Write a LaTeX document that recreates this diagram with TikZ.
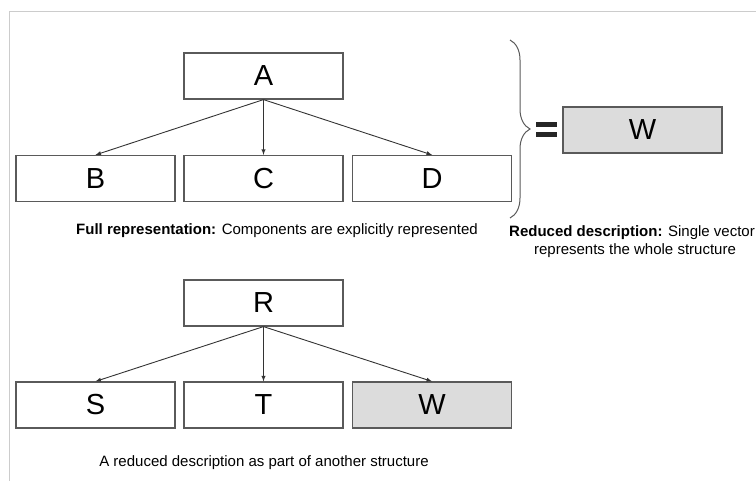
\documentclass[tikz,border=0pt]{standalone}
\usepackage{fontspec}
\setmainfont{Liberation Sans}
\usepackage{xcolor}
\usetikzlibrary{decorations.pathreplacing}
\definecolor{boxfill}{HTML}{DCDCDC}
\definecolor{boxline}{HTML}{5A5A5A}
\definecolor{framegray}{HTML}{CCCCCC}
\tikzset{
  box/.style={draw=boxline, line width=1.2pt, minimum width=159pt, minimum height=46pt,
    inner sep=0pt, font=\fontsize{29}{31}\selectfont},
  redbox/.style={box, fill=boxfill},
  caption/.style={inner sep=0pt, font=\fontsize{15}{18}\selectfont},
  link/.style={->, >=latex, draw=black!80, line width=0.9pt}
}
\begin{document}
\begin{tikzpicture}[x=1pt,y=-1pt]
\useasboundingbox (0,0) rectangle (756,481);
% frame
\draw[framegray, line width=0.8pt] (9,481) -- (9,11) -- (756,11);
% full representation
\node[box] (a) at (263.5,76) {A};
\node[box] (b) at (95.5,178.5) {B};
\node[box] (c) at (263.5,178.5) {C};
\node[box] (d) at (432,178.5) {D};
\draw[link] (a.south)--(b.north);
\draw[link] (a.south)--(c.north);
\draw[link] (a.south)--(d.north);
\node[caption, anchor=base] (fullcap) at (277,235) {\textbf{Full representation:} Components are explicitly represented};
% reduced description
\draw[boxline, line width=1pt, decorate, decoration={brace, amplitude=20pt}] (510,40) -- (510,218);
\draw[black!85, line width=4.5pt] (536,124.5) -- (557,124.5);
\draw[black!85, line width=4.5pt] (536,134.5) -- (557,134.5);
\node[redbox] (w) at (642.5,130) {W};
\node[caption, anchor=base] (redcap) at (632,237) {\textbf{Reduced description:} Single vector};
\node[caption, anchor=base] (redcap2) at (635,255) {represents the whole structure};
% reduced description as part of another structure
\node[box] (r) at (263.5,303) {R};
\node[box] (s) at (95.5,405) {S};
\node[box] (t) at (263.5,405) {T};
\node[redbox] (w2) at (432,405) {W};
\draw[link] (r.south)--(s.north);
\draw[link] (r.south)--(t.north);
\draw[link] (r.south)--(w2.north);
\node[caption, anchor=base] (partcap) at (264,466) {A reduced description as part of another structure};
\end{tikzpicture}
\end{document}
